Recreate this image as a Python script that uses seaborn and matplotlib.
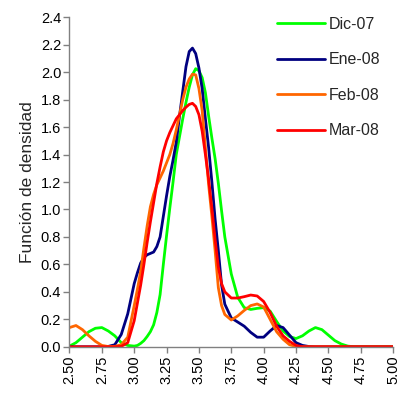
import numpy as np
import pandas as pd
import matplotlib
matplotlib.use("Agg")
import matplotlib.pyplot as plt
import seaborn as sns

x = [2.50, 2.55, 2.60, 2.65, 2.70, 2.75, 2.80, 2.85, 2.90, 2.95,
     3.00, 3.025, 3.05, 3.075, 3.10, 3.125, 3.15, 3.175, 3.20, 3.225,
     3.25, 3.275, 3.30, 3.325, 3.35, 3.375, 3.40, 3.425, 3.45, 3.475,
     3.50, 3.525, 3.55, 3.575, 3.60, 3.625, 3.65, 3.675, 3.70, 3.75,
     3.80, 3.85, 3.90, 3.95, 4.00, 4.05, 4.10, 4.15, 4.20, 4.25,
     4.30, 4.35, 4.40, 4.45, 4.50, 4.55, 4.60, 4.65, 4.70, 4.75,
     4.80, 4.85, 4.90, 4.95, 5.00]

dic07 = [0.005, 0.03, 0.07, 0.11, 0.135, 0.14, 0.115, 0.08, 0.03, 0.01,
         0.005, 0.01, 0.025, 0.045, 0.075, 0.11, 0.16, 0.25, 0.38, 0.60,
         0.81, 1.01, 1.20, 1.40, 1.53, 1.66, 1.78, 1.89, 1.98, 2.025,
         2.01, 1.96, 1.85, 1.68, 1.52, 1.37, 1.19, 0.99, 0.80, 0.53,
         0.36, 0.285, 0.272, 0.28, 0.285, 0.26, 0.185, 0.115, 0.075, 0.06,
         0.08, 0.115, 0.14, 0.125, 0.085, 0.045, 0.02, 0.005, 0.0, 0.0,
         0.0, 0.0, 0.0, 0.0, 0.0]

ene08 = [0.0, 0.0, 0.0, 0.0, 0.0, 0.0, 0.003, 0.015, 0.09, 0.24,
         0.46, 0.54, 0.61, 0.65, 0.67, 0.68, 0.69, 0.73, 0.80, 0.95,
         1.10, 1.24, 1.36, 1.49, 1.68, 1.86, 2.04, 2.15, 2.175, 2.135,
         2.03, 1.88, 1.66, 1.45, 1.20, 0.93, 0.70, 0.45, 0.31, 0.21,
         0.18, 0.15, 0.105, 0.07, 0.07, 0.115, 0.155, 0.14, 0.085, 0.03,
         0.01, 0.002, 0.0, 0.0, 0.0, 0.0, 0.0, 0.0, 0.0, 0.0,
         0.0, 0.0, 0.0, 0.0, 0.0]

feb08 = [0.14, 0.155, 0.125, 0.08, 0.04, 0.01, 0.002, 0.003, 0.015, 0.07,
         0.30, 0.42, 0.55, 0.72, 0.88, 1.02, 1.11, 1.18, 1.23, 1.28,
         1.34, 1.40, 1.48, 1.58, 1.69, 1.80, 1.89, 1.95, 1.985, 1.98,
         1.88, 1.72, 1.45, 1.18, 0.95, 0.70, 0.43, 0.30, 0.235, 0.195,
         0.225, 0.265, 0.30, 0.312, 0.29, 0.20, 0.11, 0.055, 0.015, 0.003,
         0.0, 0.0, 0.0, 0.0, 0.0, 0.0, 0.0, 0.0, 0.0, 0.0,
         0.0, 0.0, 0.0, 0.0, 0.0]

mar08 = [0.0, 0.0, 0.0, 0.0, 0.0, 0.0, 0.0, 0.0, 0.003, 0.03,
         0.19, 0.32, 0.45, 0.60, 0.76, 0.91, 1.05, 1.19, 1.31, 1.42,
         1.50, 1.56, 1.61, 1.66, 1.69, 1.72, 1.745, 1.765, 1.773, 1.75,
         1.69, 1.57, 1.40, 1.22, 1.01, 0.78, 0.58, 0.46, 0.40, 0.355,
         0.355, 0.365, 0.377, 0.37, 0.33, 0.25, 0.15, 0.08, 0.04, 0.01,
         0.0, 0.0, 0.0, 0.0, 0.0, 0.0, 0.0, 0.0, 0.0, 0.0,
         0.0, 0.0, 0.0, 0.0, 0.0]

series_names = ["Dic-07", "Ene-08", "Feb-08", "Mar-08"]
series_values = [dic07, ene08, feb08, mar08]
colors = ["#00FF00", "#000080", "#FF6600", "#FF0000"]

x_ticks = [2.50, 2.75, 3.00, 3.25, 3.50, 3.75, 4.00, 4.25, 4.50, 4.75, 5.00]
y_ticks = [0.0, 0.2, 0.4, 0.6, 0.8, 1.0, 1.2, 1.4, 1.6, 1.8, 2.0, 2.2, 2.4]

frames = [pd.DataFrame({"x": x, "y": v, "serie": n}) for n, v in zip(series_names, series_values)]
df = pd.concat(frames, ignore_index=True)

sns.set_style("white")
plt.rcParams["font.family"] = ["Liberation Sans", "DejaVu Sans"]

fig = plt.figure(figsize=(4.04, 4.00), dpi=100)
ax = fig.add_axes([0.172, 0.133, 0.801, 0.824])

sns.lineplot(data=df, x="x", y="y", hue="serie", hue_order=series_names,
             palette=colors, linewidth=2, ax=ax, sort=False)

ax.set_xlim(2.5, 5.0)
ax.set_ylim(0, 2.4)
ax.set_xticks(x_ticks)
ax.set_xticklabels([f"{t:.2f}" for t in x_ticks], rotation=90, fontsize=10.5)
ax.set_yticks(y_ticks)
ax.set_yticklabels([f"{t:.1f}" for t in y_ticks], fontsize=10.5)
ax.set_xlabel("")
ax.set_ylabel("Función de densidad", fontsize=12.5, labelpad=4)

for s in ["top", "right"]:
    ax.spines[s].set_visible(False)
for s in ["left", "bottom"]:
    ax.spines[s].set_color("#808080")
    ax.spines[s].set_linewidth(1)
ax.tick_params(axis="both", direction="out", length=4, width=1, color="#808080",
               left=True, bottom=True, labelcolor="black", pad=2)

leg = ax.legend(loc="upper left", bbox_to_anchor=(0.621, 1.02), frameon=False,
                fontsize=11.5, handlelength=3.0, labelspacing=1.28, handletextpad=0.25,
                borderaxespad=0)

fig.savefig("out.png", dpi=100)
